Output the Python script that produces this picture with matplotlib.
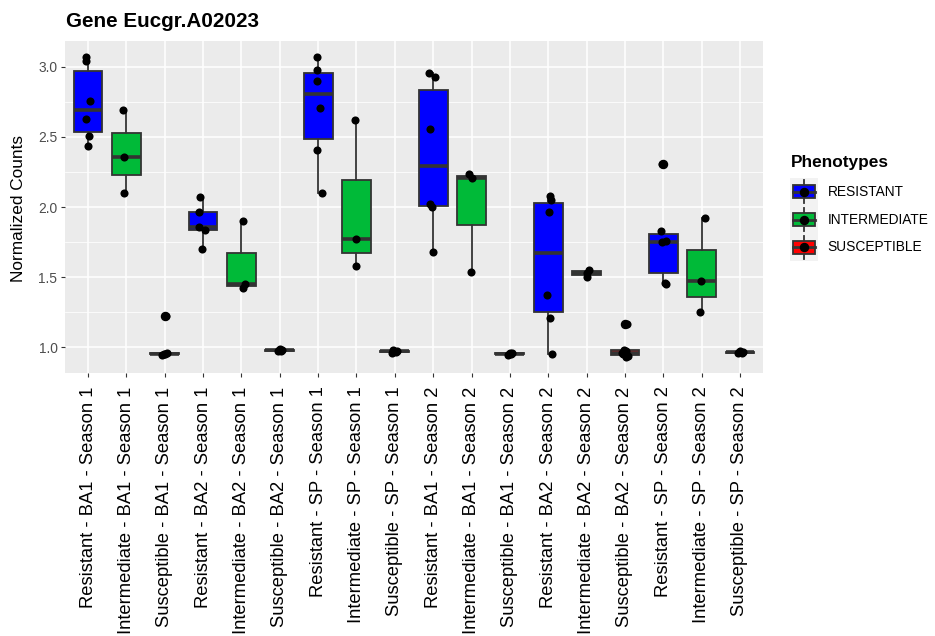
import numpy as np
import matplotlib
matplotlib.use("Agg")
import matplotlib.pyplot as plt
from matplotlib.patches import Rectangle, Patch
from matplotlib.lines import Line2D
from matplotlib.legend_handler import HandlerBase

plt.rcParams['font.family'] = ['Liberation Sans', 'DejaVu Sans']

# --- data ---
labels = [
    "Resistant - BA1 - Season 1", "Intermediate - BA1 - Season 1", "Susceptible - BA1 - Season 1",
    "Resistant - BA2 - Season 1", "Intermediate - BA2 - Season 1", "Susceptible - BA2 - Season 1",
    "Resistant - SP - Season 1", "Intermediate - SP - Season 1", "Susceptible - SP - Season 1",
    "Resistant - BA1 - Season 2", "Intermediate - BA1 - Season 2", "Susceptible - BA1 - Season 2",
    "Resistant - BA2 - Season 2", "Intermediate - BA2 - Season 2", "Susceptible - BA2 - Season 2",
    "Resistant - SP - Season 2", "Intermediate - SP - Season 2", "Susceptible - SP - Season 2",
]
phenotype = ["RESISTANT", "INTERMEDIATE", "SUSCEPTIBLE"] * 6

counts = [
    [2.433, 2.504, 2.626, 2.754, 3.037, 3.066],
    [2.101, 2.357, 2.693],
    [0.948, 0.952, 0.956, 0.960, 1.225],
    [1.700, 1.837, 1.860, 1.967, 2.069],
    [1.423, 1.452, 1.900],
    [0.975, 0.978, 0.980, 0.983, 0.990],
    [2.101, 2.409, 2.707, 2.901, 2.976, 3.071],
    [1.577, 1.771, 2.617],
    [0.962, 0.968, 0.972, 0.978, 0.985],
    [1.683, 2.002, 2.021, 2.558, 2.925, 2.953],
    [1.534, 2.210, 2.234],
    [0.945, 0.950, 0.955, 0.958, 0.962],
    [0.950, 1.210, 1.376, 1.967, 2.050, 2.078],
    [1.505, 1.530, 1.553],
    [0.930, 0.940, 0.950, 0.960, 0.975, 0.985, 1.170],
    [1.450, 1.461, 1.750, 1.758, 1.827, 2.305],
    [1.253, 1.470, 1.920],
    [0.958, 0.962, 0.966, 0.970, 0.975],
]

# horizontal jitter of the points (category units), same order as counts
jitter = [
    [-0.00, 0.02, -0.04, 0.04, -0.05, -0.04],
    [-0.06, -0.07, -0.09],
    [-0.08, -0.03, 0.02, 0.05, 0.03],
    [-0.02, 0.06, -0.10, -0.10, -0.09],
    [0.03, 0.09, 0.04],
    [-0.05, 0.03, -0.02, 0.05, 0.00],
    [0.10, -0.04, 0.04, -0.04, -0.02, -0.04],
    [0.00, 0.00, -0.04],
    [-0.07, 0.04, -0.02, 0.06, -0.04],
    [0.00, -0.02, -0.09, -0.09, 0.05, -0.10],
    [-0.01, 0.00, -0.06],
    [-0.06, 0.04, -0.02, 0.05, 0.00],
    [0.10, 0.05, -0.04, 0.02, 0.07, 0.04],
    [0.00, 0.00, 0.05],
    [0.02, 0.07, -0.05, -0.07, 0.03, -0.03, 0.06],
    [0.08, 0.05, -0.03, 0.07, -0.07, -0.03],
    [-0.03, -0.01, 0.08],
    [-0.06, 0.05, -0.02, 0.07, 0.00],
]

pheno_colors = {"RESISTANT": "#0000FF", "INTERMEDIATE": "#00BA38", "SUSCEPTIBLE": "#FF0000"}
edge = "#333333"

fig = plt.figure(figsize=(9.35, 6.36), dpi=100)
ax = fig.add_axes([65 / 935, 1 - 373 / 636, 698 / 935, 332 / 636])
ax.set_facecolor("#EBEBEB")

pos = np.arange(len(labels))
bp = ax.boxplot(counts, positions=pos, widths=0.75, patch_artist=True, showcaps=False,
                medianprops=dict(color=edge, lw=2.6, solid_capstyle='butt'),
                boxprops=dict(edgecolor=edge, lw=1.3),
                whiskerprops=dict(color=edge, lw=1.3),
                flierprops=dict(marker='o', markerfacecolor='black', markeredgecolor='black',
                                markersize=5.8),
                zorder=2)
for patch, ph in zip(bp['boxes'], phenotype):
    patch.set_facecolor(pheno_colors[ph])

for i, (vals, jit) in enumerate(zip(counts, jitter)):
    ax.scatter(i + np.array(jit), vals, s=34, color='black', zorder=3, linewidths=0)

ax.set_xlim(-0.6, len(labels) - 0.4)
ax.set_ylim(0.818, 3.183)
ax.set_yticks([1.0, 1.5, 2.0, 2.5, 3.0])
ax.set_yticklabels(["1.0", "1.5", "2.0", "2.5", "3.0"])
ax.set_yticks([1.25, 1.75, 2.25, 2.75], minor=True)
ax.set_xticks(pos)
ax.set_xticklabels(labels, rotation=90, fontsize=13.2, color='black')

ax.grid(which='major', color='white', lw=1.1)
ax.grid(which='minor', axis='y', color='white', lw=0.55)
ax.set_axisbelow(True)
for s in ax.spines.values():
    s.set_visible(False)
ax.tick_params(axis='both', which='major', length=2.75, width=0.8, color=edge)
ax.tick_params(axis='y', which='major', labelsize=9.9, labelcolor='#4D4D4D', pad=2.7)
ax.tick_params(axis='x', which='major', pad=7)
ax.tick_params(which='minor', length=0)

fig.text(66 / 935, 1 - 27 / 636, "Gene Eucgr.A02023", fontsize=14.9, fontweight='bold',
         va='baseline', ha='left')
fig.text(18.7 / 935, 1 - 209 / 636, "Normalized Counts", fontsize=12.4, rotation=90,
         va='center', ha='center')


class BoxKeyHandler(HandlerBase):
    def create_artists(self, legend, orig_handle, xdescent, ydescent, width, height,
                       fontsize, trans):
        x0, y0 = -xdescent, -ydescent
        cx, cy = x0 + width / 2, y0 + height / 2
        bg = Rectangle((x0, y0), width, height, facecolor='#F2F2F2', edgecolor='none',
                       transform=trans)
        wl = Line2D([cx, cx], [y0 + height * 0.08, y0 + height * 0.92], color=edge, lw=1.3,
                    transform=trans)
        box = Rectangle((x0 + width * 0.1, y0 + height * 0.265), width * 0.8, height * 0.47,
                        facecolor=orig_handle.get_facecolor(), edgecolor=edge, lw=1.3,
                        transform=trans)
        med = Line2D([x0 + width * 0.1, x0 + width * 0.9], [cy, cy], color=edge, lw=2.0,
                     transform=trans)
        dot = Line2D([cx], [cy], marker='o', color='black', markersize=5.8, lw=0,
                     transform=trans)
        return [bg, wl, box, med, dot]


legend_names = ["RESISTANT", "INTERMEDIATE", "SUSCEPTIBLE"]
handles = [Patch(facecolor=pheno_colors[p]) for p in legend_names]
fig.text(791 / 935, 1 - 162 / 636, "Phenotypes", fontsize=12.4, fontweight='bold',
         va='center', ha='left')
leg = fig.legend(handles, legend_names,
                 handler_map={Patch: BoxKeyHandler()},
                 loc='upper left', bbox_to_anchor=(790 / 935, 1 - 178 / 636),
                 frameon=False, fontsize=9.9,
                 handlelength=2.0, handleheight=2.72, labelspacing=0.0,
                 handletextpad=0.75, borderpad=0.0, borderaxespad=0.0)

fig.savefig("out.png", dpi=100)
